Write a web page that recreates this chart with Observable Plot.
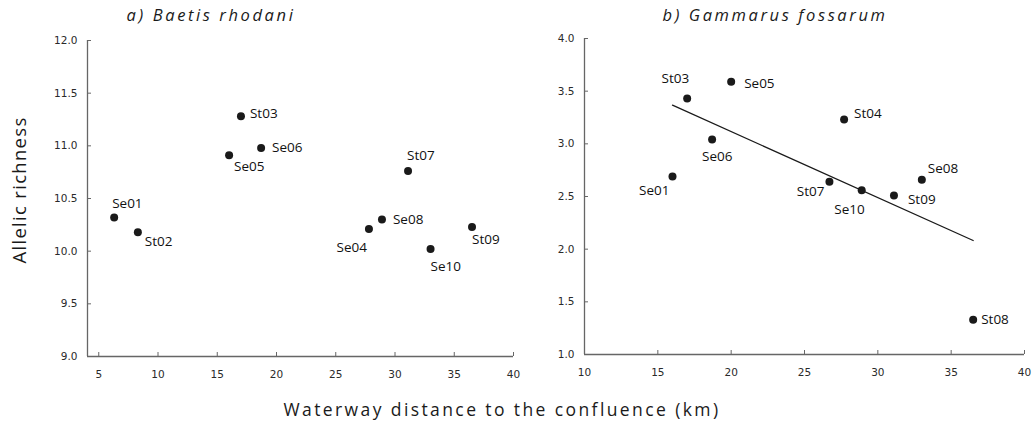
<!DOCTYPE html>
<html>
<head>
<meta charset="utf-8">
<script src="https://cdn.jsdelivr.net/npm/d3@7"></script>
<script src="https://cdn.jsdelivr.net/npm/@observablehq/plot@0.6"></script>
<style>
  html, body { margin: 0; padding: 0; background: #fff; }
  #wrap { position: relative; width: 1032px; height: 425px; font-family: "Open Sans", sans-serif; color: #1a1a1a; overflow: hidden; }
  .panel { position: absolute; top: 0; }
  .title { position: absolute; top: 3px; font-style: italic; font-size: 16.5px; letter-spacing: 2.6px; white-space: nowrap; transform: translateX(-50%); color: #1a1a1a; }
  #xlab { position: absolute; top: 397px; left: 502px; transform: translateX(-50%); font-size: 17.5px; letter-spacing: 2.4px; white-space: nowrap; color: #1a1a1a; }
  #ylab { position: absolute; left: 18px; top: 190px; transform: translate(-50%, -50%) rotate(-90deg); font-size: 18.5px; letter-spacing: 1.3px; white-space: nowrap; color: #1a1a1a; }
</style>
</head>
<body>
<div id="wrap">
  <div class="title" style="left:211px">a) Baetis rhodani</div>
  <div class="title" style="left:775px">b) Gammarus fossarum</div>
  <div id="ylab">Allelic richness</div>
  <div id="xlab">Waterway distance to the confluence (km)</div>
  <div id="left" class="panel" style="left:0px"></div>
  <div id="right" class="panel" style="left:520px"></div>
</div>
<script>
// ---- Data: a) Baetis rhodani ----
const baetisSites = ["Se01","St02","St03","Se05","Se06","Se04","Se08","St07","Se10","St09"];
const baetisDistance = [6.3, 8.3, 17.0, 16.0, 18.7, 27.8, 28.9, 31.1, 33.0, 36.5];
const baetisRichness = [10.32, 10.18, 11.28, 10.91, 10.98, 10.21, 10.30, 10.76, 10.02, 10.23];

// ---- Data: b) Gammarus fossarum ----
const gammarusSites = ["Se01","St03","Se06","Se05","St07","St04","Se10","St09","Se08","St08"];
const gammarusDistance = [16.0, 17.0, 18.7, 20.0, 26.7, 27.7, 28.9, 31.1, 33.0, 36.5];
const gammarusRichness = [2.69, 3.43, 3.04, 3.59, 2.64, 3.23, 2.56, 2.51, 2.66, 1.33];

// ---- Tick values ----
const baetisXTicks = [5, 10, 15, 20, 25, 30, 35, 40];
const baetisYTicks = [9.0, 9.5, 10.0, 10.5, 11.0, 11.5, 12.0];
const gammarusXTicks = [10, 15, 20, 25, 30, 35, 40];
const gammarusYTicks = [1.0, 1.5, 2.0, 2.5, 3.0, 3.5, 4.0];

// ---- Label placement (annotation style, per site) ----
const baetisLabelPlace = {
  Se01: [-2, -14, "start"], St02: [7, 9, "start"], St03: [9, -3, "start"], Se05: [5, 11, "start"],
  Se06: [11, 0, "start"], Se04: [-2, 19, "end"], Se08: [11, 0, "start"], St07: [-1, -15, "start"],
  Se10: [0, 18, "start"], St09: [0, 13, "start"]
};
const gammarusLabelPlace = {
  Se01: [-3, 14, "end"], St03: [2, -20, "end"], Se06: [-10, 17, "start"], Se05: [13, 2, "start"],
  St07: [-5, 10, "end"], St04: [10, -6, "start"], Se10: [3, 19, "end"], St09: [14, 4, "start"],
  Se08: [6, -11, "start"], St08: [8, 0, "start"]
};

const baetis = baetisSites.map((s, i) => ({site: s, x: baetisDistance[i], y: baetisRichness[i]}));
const gammarus = gammarusSites.map((s, i) => ({site: s, x: gammarusDistance[i], y: gammarusRichness[i]}));

const axisColor = "#666";
const tickFont = {fontSize: 10.5, fill: "#2a2a2a", fontFamily: "DejaVu Sans, sans-serif"};

function panel({data, place, xDomain, yDomain, xTicks, yTicks, width, margins, regression}) {
  const labels = data.map(d => {
    const [dx, dy, anchor] = place[d.site];
    return Plot.text([d], {x: "x", y: "y", text: "site", dx, dy, textAnchor: anchor,
      fontSize: 13.5, fill: "#111", fontFamily: "Open Sans, sans-serif"});
  });
  const marks = [
    Plot.ruleX([xDomain[0]], {stroke: axisColor, strokeWidth: 1.3}),
    Plot.ruleY([yDomain[0]], {stroke: axisColor, strokeWidth: 1.3}),
    Plot.axisX({ticks: xTicks, tickSize: 4, dy: -4, text: null, stroke: axisColor}),
    Plot.axisX({ticks: xTicks, tickSize: 0, tickPadding: 14, tickFormat: d3.format("d"), ...tickFont, style: "letter-spacing:1.2px"}),
    Plot.axisY({ticks: yTicks, tickSize: 4, dx: 4, text: null, stroke: axisColor}),
    Plot.axisY({ticks: yTicks, tickSize: 0, tickPadding: 10, tickFormat: d3.format(".1f"), ...tickFont, style: "letter-spacing:1.2px"})
  ];
  if (regression) {
    marks.push(Plot.linearRegressionY(data, {x: "x", y: "y", ci: 0, stroke: "#1a1a1a", strokeWidth: 1.3}));
  }
  marks.push(Plot.dot(data, {x: "x", y: "y", r: 4, fill: "#1a1a1a", stroke: "none"}));
  marks.push(...labels);
  return Plot.plot({
    width, height: 425,
    marginLeft: margins[0], marginRight: margins[1], marginTop: margins[2], marginBottom: margins[3],
    style: {background: "transparent", fontFamily: "Open Sans, sans-serif", overflow: "visible"},
    x: {domain: xDomain, label: null},
    y: {domain: yDomain, label: null},
    marks
  });
}

document.getElementById("left").appendChild(panel({
  data: baetis, place: baetisLabelPlace, xDomain: [4.05, 40], yDomain: [9, 12],
  xTicks: baetisXTicks, yTicks: baetisYTicks, width: 530, margins: [87, 17, 40, 69], regression: false
}));
document.getElementById("right").appendChild(panel({
  data: gammarus, place: gammarusLabelPlace, xDomain: [10, 40], yDomain: [1, 4],
  xTicks: gammarusXTicks, yTicks: gammarusYTicks, width: 512, margins: [64, 8, 38, 71], regression: true
}));
</script>
</body>
</html>
